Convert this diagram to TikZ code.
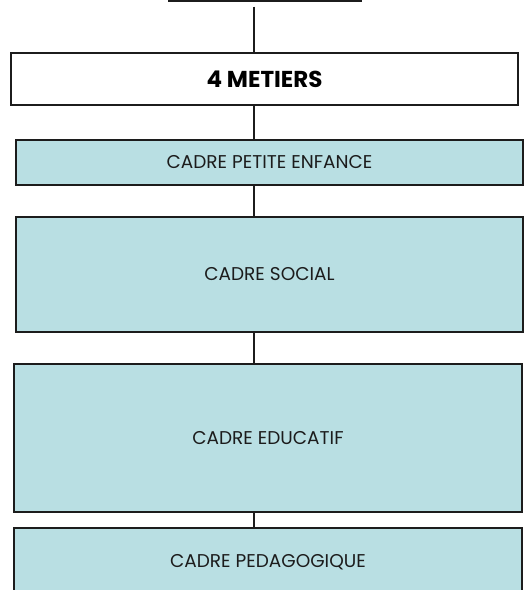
\documentclass[tikz,border=0pt]{standalone}
\usepackage{fontspec}
\setmainfont{Poppins}
\usetikzlibrary{positioning}
\definecolor{cadreblue}{HTML}{B9DFE3}
\definecolor{inkgrey}{HTML}{1C1C1C}
\begin{document}
\begin{tikzpicture}[x=1pt, y=-1pt,
			internal/.style={draw=inkgrey, rectangle, line width=1.2pt, minimum width=507pt, inner sep=4pt},
			cadre/.style={internal, fill=cadreblue, text=inkgrey, font=\fontsize{18.5}{22}\selectfont},
			link/.style={draw=inkgrey, line width=1.2pt},
			every text node part/.style={align=center}]
			\useasboundingbox (0,0) rectangle (528,590);
			\clip (0,0) rectangle (528,590);
			\coordinate (spine) at (254,0);
			
			\node[internal, minimum width=192pt, minimum height=60pt](top) at (265, -29) {};
			
			\node[internal, minimum height=52pt, font=\bfseries\fontsize{23}{27}\selectfont](metiers) at (264.5, 79) {4 METIERS};
			\draw[link] ([yshift=-5pt]top.south -| spine) -- (metiers.north -| spine);
			
			\node[cadre, minimum height=45pt](petite) at (269.5, 162.5) {CADRE PETITE ENFANCE};
			\draw[link] (metiers.south -| spine) -- (petite.north -| spine);
			
			\node[cadre, minimum height=115pt](social) at (269.5, 274.5) {CADRE SOCIAL};
			\draw[link] (petite.south -| spine) -- (social.north -| spine);
			
			\node[cadre, minimum width=508pt, minimum height=148pt](educ) at (268, 438) {CADRE EDUCATIF};
			\draw[link] (social.south -| spine) -- (educ.north -| spine);
			
			\node[cadre, minimum width=508pt, minimum height=68pt](pedago) at (268, 562) {CADRE PEDAGOGIQUE};
			\draw[link] (educ.south -| spine) -- (pedago.north -| spine);
			\end{tikzpicture}
\end{document}
